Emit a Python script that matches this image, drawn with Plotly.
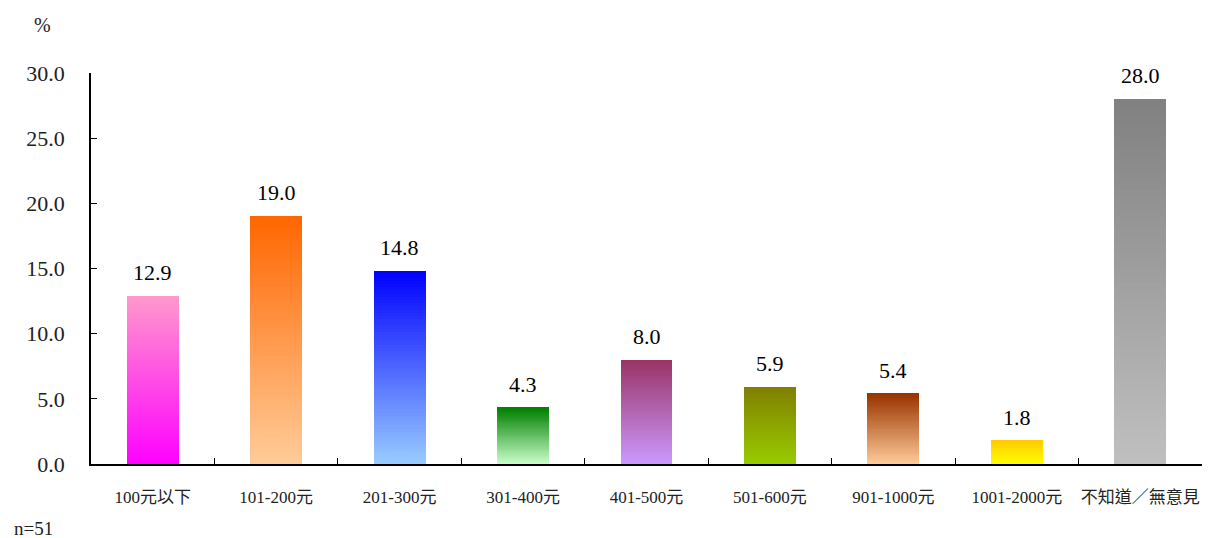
import plotly.graph_objects as go

# %%
categories = ["100元以下", "101-200元", "201-300元", "301-400元", "401-500元",
              "501-600元", "901-1000元", "1001-2000元", "不知道／無意見"]
values = [12.9, 19.0, 14.8, 4.3, 8.0, 5.9, 5.4, 1.8, 28.0]

# gradient ends per bar (top, bottom)
top_colors = ["#FF99CC", "#FF6600", "#0000FF", "#008000", "#993366",
              "#808000", "#993300", "#FFCC00", "#808080"]
bottom_colors = ["#FF00FF", "#FFCC99", "#99CCFF", "#CCFFCC", "#CC99FF",
                 "#99CC00", "#FFCC99", "#FFFF00", "#C0C0C0"]

FONT = "'Liberation Serif', 'Times New Roman', 'Noto Sans CJK TC', serif"
N_SLICES = 60


def hex_rgb(h):
    h = h.lstrip("#")
    return [int(h[i:i + 2], 16) for i in (0, 2, 4)]


def mix(c_bottom, c_top, t):
    a, b = hex_rgb(c_bottom), hex_rgb(c_top)
    r = [round(a[i] + (b[i] - a[i]) * t) for i in range(3)]
    return "rgb(%d,%d,%d)" % tuple(r)


fig = go.Figure()

# each bar is drawn as a stack of thin slices to fake the vertical gradient
for k in range(N_SLICES):
    t = (k + 0.5) / N_SLICES
    fig.add_trace(go.Bar(
        x=categories,
        y=[v / N_SLICES for v in values],
        marker=dict(color=[mix(b, tp, t) for b, tp in zip(bottom_colors, top_colors)],
                    line=dict(width=0)),
        showlegend=False, hoverinfo="skip",
    ))

# value labels above bars
for c, v in zip(categories, values):
    fig.add_annotation(x=c, y=v, text="%.1f" % v, showarrow=False,
                       yanchor="bottom", yshift=9,
                       font=dict(family=FONT, size=22, color="black"))

fig.add_annotation(text="%", xref="paper", yref="paper", x=-0.0433, y=1.123,
                   xanchor="center", yanchor="middle",
                   showarrow=False, font=dict(size=20, color="#222"))
fig.add_annotation(text="n=51", xref="paper", yref="paper", x=-0.052, y=-0.164,
                   xanchor="center", yanchor="middle",
                   showarrow=False, font=dict(size=19, color="#222"))

# page body has an 8px margin, so the plot box is pulled up/left by that
fig.update_layout(
    barmode="stack", bargap=0.58,
    width=1212, height=538,
    margin=dict(l=83, r=18, t=65, b=82),
    plot_bgcolor="white", paper_bgcolor="white",
    font=dict(family=FONT, color="#222"),
)
fig.update_xaxes(
    type="category", showline=True, linecolor="black", linewidth=1.5,
    ticks="inside", tickson="boundaries", ticklen=6, tickcolor="black",
    tickfont=dict(size=17, color="#222"), ticklabelstandoff=17, tickangle=0,
    showgrid=False, zeroline=False, automargin=False,
)
fig.update_yaxes(
    range=[0, 30], dtick=5, tickformat=".1f",
    showline=True, linecolor="black", linewidth=1.5,
    ticks="inside", ticklen=6, tickcolor="black",
    tickfont=dict(size=22, color="#222"), ticklabelstandoff=20,
    showgrid=False, zeroline=False, automargin=False,
)

fig.write_html("out.html")
